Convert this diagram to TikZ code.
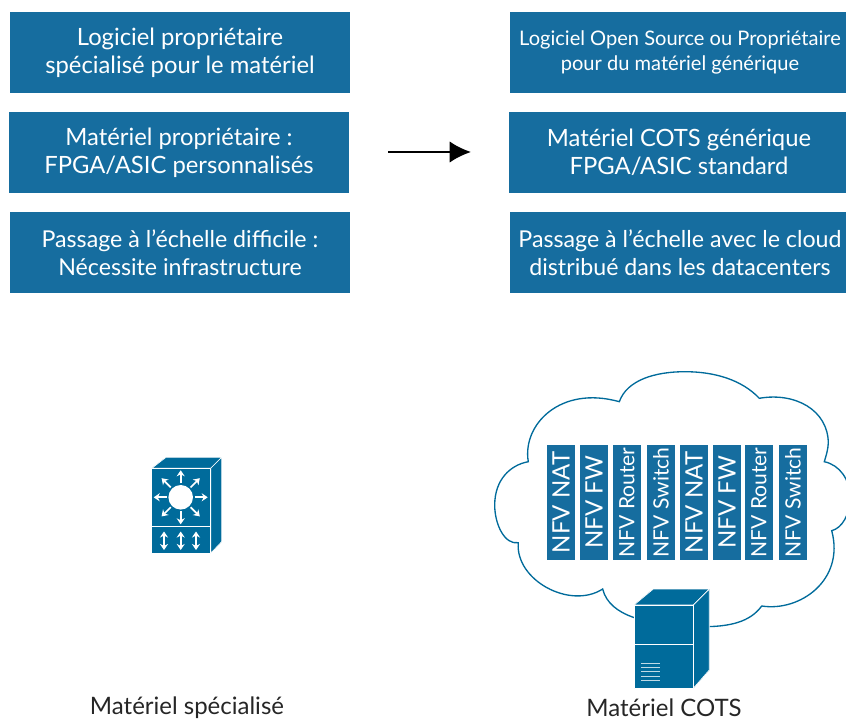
\documentclass[tikz,border=0pt]{standalone}
\usepackage{fontspec}
\setmainfont{Lato}
\usetikzlibrary{arrows.meta,positioning,calc}
\definecolor{boxblue}{RGB}{22,109,159}
\definecolor{iconblue}{RGB}{0,107,155}
\begin{document}
\begin{tikzpicture}[
    x=0.75pt, y=-0.75pt,
    box/.style={fill=boxblue, text=white, minimum width=255pt, minimum height=60.75pt, inner sep=0pt, align=center, font=\fontsize{17.85}{21}\selectfont},
    smallbox/.style={box, font=\fontsize{15.05}{18.5}\selectfont},
    scalebox/.style={box, font=\fontsize{17.4}{21}\selectfont},
    vnf/.style={fill=boxblue, text=white, rotate=90, minimum width=86.25pt, minimum height=21pt, inner sep=0pt, font=\fontsize{18}{18}\selectfont},
    smallvnf/.style={vnf, font=\fontsize{15.8}{18}\selectfont},
    caption/.style={font=\fontsize{18}{21}\selectfont, text=black!85},
    arrow/.style={-{Latex[length=16pt,width=16pt]}, line width=1.5pt},
    icon/.style={fill=iconblue, draw=white, line width=0.5pt, line join=round},
    whitearrow/.style={white, line width=1.3pt, -{Stealth[length=4.5pt,width=6pt]}},
    whitedouble/.style={white, line width=1.3pt, {Stealth[length=4.5pt,width=6pt]}-{Stealth[length=4.5pt,width=6pt]}}
]
    \useasboundingbox (0,0) rectangle (846,720);

    % Boxes left
    \node[box] (softleft) at (180,52.5) {Logiciel propriétaire\\spécialisé pour le matériel};
    \node[box] (hardleft) at (179,152.5) {Matériel propriétaire :\\FPGA/ASIC personnalisés};
    \node[scalebox] (scaleleft) at (180,252.5) {Passage à l’échelle difficile :\\Nécessite infrastructure};

    % Boxes right
    \node[smallbox] (softright) at (680,52.5) {Logiciel Open Source ou Propriétaire\\pour du matériel générique};
    \node[box] (hardright) at (679,152.5) {Matériel COTS générique\\FPGA/ASIC standard};
    \node[scalebox] (scaleright) at (680,252.5) {Passage à l’échelle avec le cloud\\distribué dans les datacenters};

    % Arrow
    \coordinate (arrowstart) at (388,152);
    \coordinate (arrowend) at (471,152);
    \draw[arrow] (arrowstart) -- (arrowend);

    % Cloud
    \draw[iconblue, line width=1pt, fill=white] (619.3,401.7)
        .. controls (627,380) and (655,371.7) .. (685,371.7)
        .. controls (715,371.7) and (742,380) .. (759.3,398.3)
        .. controls (795,392) and (828,410) .. (828.3,443)
        .. controls (828,450) and (826,456) .. (824.3,461.7)
        .. controls (840,465) and (850,480) .. (850,497)
        .. controls (850,515) and (842,528) .. (831.7,530.7)
        .. controls (845,580) and (800,612) .. (761.7,606)
        .. controls (750,622) and (730,627) .. (700,626.7)
        -- (640,620) -- (633.3,617.3)
        .. controls (618,612) and (606,603) .. (602.7,589)
        .. controls (570,610) and (515,580) .. (518.3,542.7)
        .. controls (505,545) and (494.7,525) .. (494.7,505)
        .. controls (494.7,480) and (510,465) .. (528.3,461.7)
        .. controls (522,425) and (560,385) .. (619.3,401.7) -- cycle;

    % NFV bars
    \foreach \name/\xpos/\kind/\txt in {nata/561/vnf/NFV NAT, fwa/594/vnf/NFV FW, routera/627/smallvnf/NFV Router, switcha/661/smallvnf/NFV Switch, natb/694/vnf/NFV NAT, fwb/727/vnf/NFV FW, routerb/759/smallvnf/NFV Router, switchb/793/smallvnf/NFV Switch}
        \node[\kind] (\name) at (\xpos,502.5) {\txt};

    % Server
    \fill[iconblue] (634,605) -- (653.3,589) -- (709.3,589) -- (709.3,670) -- (693.3,688.3) -- (634,688.3) -- cycle;
    \draw[icon] (634,605) -- (653.3,589) -- (709.3,589) -- (693.3,605) -- cycle;
    \draw[icon] (693.3,605) -- (709.3,589) -- (709.3,670) -- (693.3,688.3) -- cycle;
    \draw[icon] (634,605) rectangle (693.3,644.3);
    \draw[icon] (634,644.3) rectangle (693.3,688.3);
    \foreach \ypos in {663.5,667.7,671.9,676.1,680.3}
        \draw[white!75!iconblue, line width=0.8pt] (641,\ypos) -- (660,\ypos);

    % Switch
    \fill[iconblue] (151.7,468.3) -- (166,457.3) -- (221.7,457.3) -- (221.7,541.7) -- (210.7,553.3) -- (151.7,553.3) -- cycle;
    \draw[icon] (151.7,468.3) -- (166,457.3) -- (221.7,457.3) -- (210.7,468.3) -- cycle;
    \draw[icon] (210.7,468.3) -- (221.7,457.3) -- (221.7,541.7) -- (210.7,553.3) -- cycle;
    \draw[icon] (151.7,468.3) rectangle (210.7,526.7);
    \draw[icon] (151.7,526.7) rectangle (210.7,553.3);
    \fill[white] (180.7,497.3) circle (9.2pt);
    \foreach \ang in {0,45,...,315}
        \draw[whitearrow] ($(180.7,497.3)+(\ang:14)$) -- ++(\ang:13);
    \foreach \xpos in {164,180.7,196}
        \draw[whitedouble] (\xpos,531.5) -- (\xpos,550);

    % Labels
    \node[caption] (captionleft) at (187,708) {Matériel spécialisé};
    \node[caption] (captionright) at (664,708) {Matériel COTS};
\end{tikzpicture}
\end{document}
